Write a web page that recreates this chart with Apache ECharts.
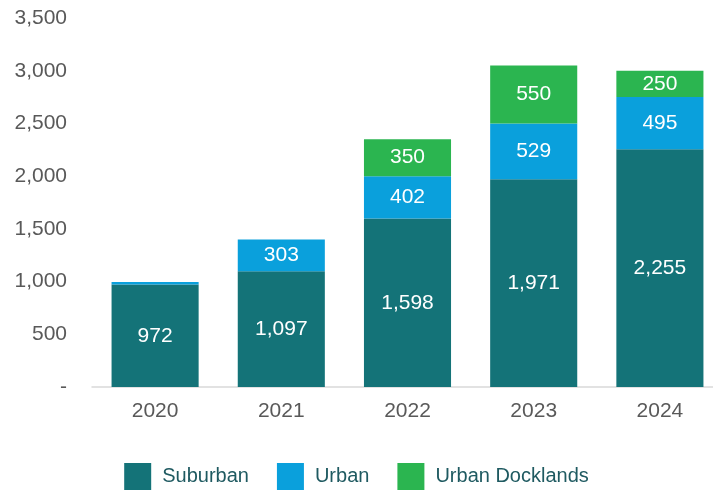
<!DOCTYPE html>
<html>
<head>
<meta charset="utf-8">
<script src="https://cdn.jsdelivr.net/npm/echarts@6/dist/echarts.min.js"></script>
<style>
  html, body { margin: 0; padding: 0; background: #fff; }
  #chart { width: 713px; height: 491px; }
</style>
</head>
<body>
<div id="chart"></div>
<script>
const years = ['2020', '2021', '2022', '2023', '2024']
const suburban = [972, 1097, 1598, 1971, 2255]
const urban = [25, 303, 402, 529, 495]
const docklands = [null, null, 350, 550, 250]

const colors = ['#147378', '#0aa0dc', '#2bb550']
const fmt = (v) => (v === 0 ? '-' : v.toLocaleString('en-US'))

const toItems = (arr) =>
  arr.map((v) => ({
    value: v,
    label: { show: v != null && v >= 100 },
  }))

const makeSeries = (name, arr, color) => ({
  name,
  type: 'bar',
  stack: 'total',
  barCategoryGap: '31%',
  itemStyle: { color },
  label: {
    position: 'inside',
    color: '#fff',
    fontSize: 21,
    fontFamily: 'Liberation Sans',
    formatter: (p) => fmt(p.value),
  },
  data: toItems(arr),
})

const chart = echarts.init(document.getElementById('chart'))
chart.setOption({
  animation: false,
  // the plot runs a little past the right edge of the picture
  grid: { left: 92, width: 631, top: 18, bottom: 104, outerBoundsMode: 'none' },
  legend: {
    bottom: -4,
    left: 'center',
    itemWidth: 27,
    itemHeight: 27,
    itemGap: 28,
    icon: 'rect',
    textStyle: {
      color: '#1f5a61',
      fontSize: 20,
      fontFamily: 'Liberation Sans',
      padding: [0, 0, 0, 6],
    },
  },
  xAxis: {
    type: 'category',
    data: years,
    axisLine: { lineStyle: { color: '#d9d9d9', width: 1.5 } },
    axisTick: { show: false },
    axisLabel: { color: '#595959', fontSize: 21, fontFamily: 'Liberation Sans', margin: 14 },
  },
  yAxis: {
    type: 'value',
    min: 0,
    max: 3500,
    interval: 500,
    splitLine: { show: false },
    axisLine: { show: false },
    axisTick: { show: false },
    axisLabel: {
      color: '#595959',
      fontSize: 21,
      fontFamily: 'Liberation Sans',
      margin: 25,
      formatter: fmt,
    },
  },
  series: [
    makeSeries('Suburban', suburban, colors[0]),
    makeSeries('Urban', urban, colors[1]),
    makeSeries('Urban Docklands', docklands, colors[2]),
  ],
})
</script>
</body>
</html>
